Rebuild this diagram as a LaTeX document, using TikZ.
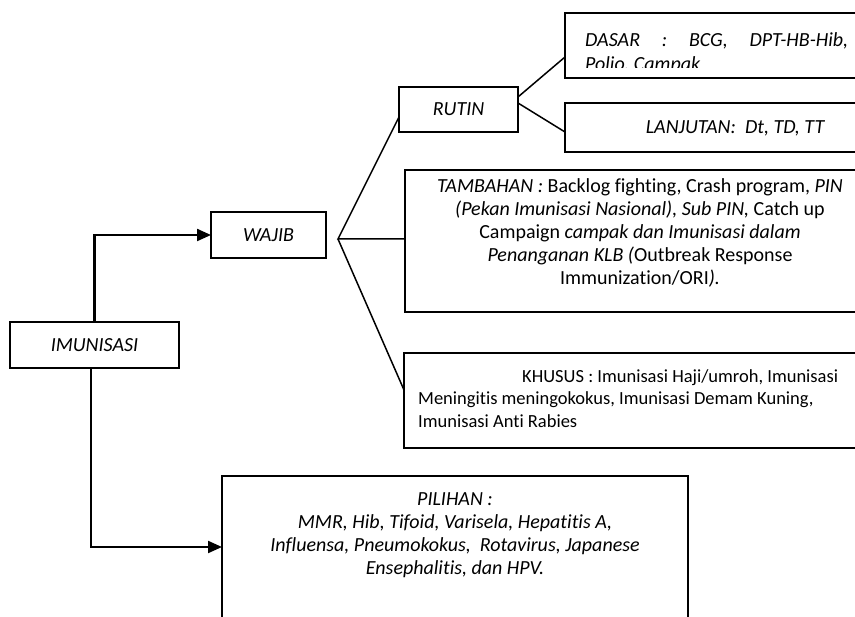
\documentclass[tikz,border=0pt]{standalone}
\usepackage{fontspec}
\setmainfont{Carlito}[Ligatures=NoCommon]
\usetikzlibrary{arrows.meta,calc}
\begin{document}
\begin{tikzpicture}[x=1pt,y=-1pt,
  box/.style={draw, line width=1.6pt, inner sep=0pt, outer sep=0pt},
  conn/.style={line width=1.5pt},
  arr/.style={line width=2.2pt, -{Triangle[length=14pt,width=12pt]}},
  txt/.style={font=\fontsize{20}{23}\selectfont\itshape, inner sep=0pt},
  txtup/.style={font=\fontsize{20}{23}\selectfont, inner sep=0pt},
  txtsm/.style={font=\fontsize{18.5}{22.5}\selectfont, inner sep=0pt}]
\clip (0,0) rectangle (855,617);
\fill[white] (0,0) rectangle (855,617);

% boxes
\node[box, txt, minimum width=169, minimum height=46] (imun) at (94.5,345) {IMUNISASI};
\node[box, txt, minimum width=115, minimum height=46] (wajib) at (268.5,235) {WAJIB};
\node[box, txt, minimum width=119, minimum height=45] (rutin) at (458.5,109.5) {RUTIN};
\node[box, minimum width=305, minimum height=65] (dasar) at (717.5,45.5) {};
\node[box, minimum width=346, minimum height=49] (lanj) at (738,127.5) {};
\node[box, minimum width=470, minimum height=142] (tamb) at (640,241) {};
\node[box, minimum width=471, minimum height=95] (khus) at (639.5,400.5) {};
\node[box, minimum width=466, minimum height=142] (pil) at (455,547) {};

% connectors
\draw[arr] (imun.north) |- (wajib.west);
\draw[arr] ([xshift=-3.5pt]imun.south) |- (pil.west);
\coordinate (j) at (338,239);
\draw[conn] ([yshift=-7.5pt]rutin.west) -- (j) -- (j -| tamb.west);
\draw[conn] (j) -- ([yshift=10.5pt]khus.west);
\draw[conn] ([yshift=12.5pt]rutin.east) -- ([yshift=-11.5pt]dasar.west);
\draw[conn] ([yshift=6.5pt]rutin.east) -- ([yshift=-4.5pt]lanj.west);

% texts
\begin{scope}
\clip (565,13) rectangle (870,68);
\node[txt, anchor=base west] (dasart1) at (585,46.5) {\hbox to 263pt{DASAR\hfill:\hfill BCG,\hfill DPT-HB-Hib,}};
\node[txt, anchor=base west] (dasart2) at (585,70.5) {Polio, Campak};
\end{scope}
\node[txt] (lanjt) at (735,128) {LANJUTAN:\ \ Dt, TD, TT};
\node[txtup, align=center] (tambt) at (640,232.5) {\textit{TAMBAHAN :} Backlog fighting, Crash program, \textit{PIN}\\
\textit{(Pekan Imunisasi Nasional), Sub PIN,} Catch up\\
Campaign \textit{campak dan Imunisasi dalam}\\
\textit{Penanganan KLB (}Outbreak Response\\
Immunization/ORI\textit{).}};
\node[txtsm, align=left, anchor=west] (khust) at (418,398.5) {\hspace*{104pt}KHUSUS : Imunisasi Haji/umroh, Imunisasi\\
Meningitis meningokokus, Imunisasi Demam Kuning,\\
Imunisasi Anti Rabies};
\node[txt, align=center] (pilt) at (455,535.5) {PILIHAN :\\
MMR, Hib, Tifoid, Varisela, Hepatitis A,\\
Influensa, Pneumokokus,\ \ Rotavirus, Japanese\\
Ensephalitis, dan HPV.};
\end{tikzpicture}
\end{document}
